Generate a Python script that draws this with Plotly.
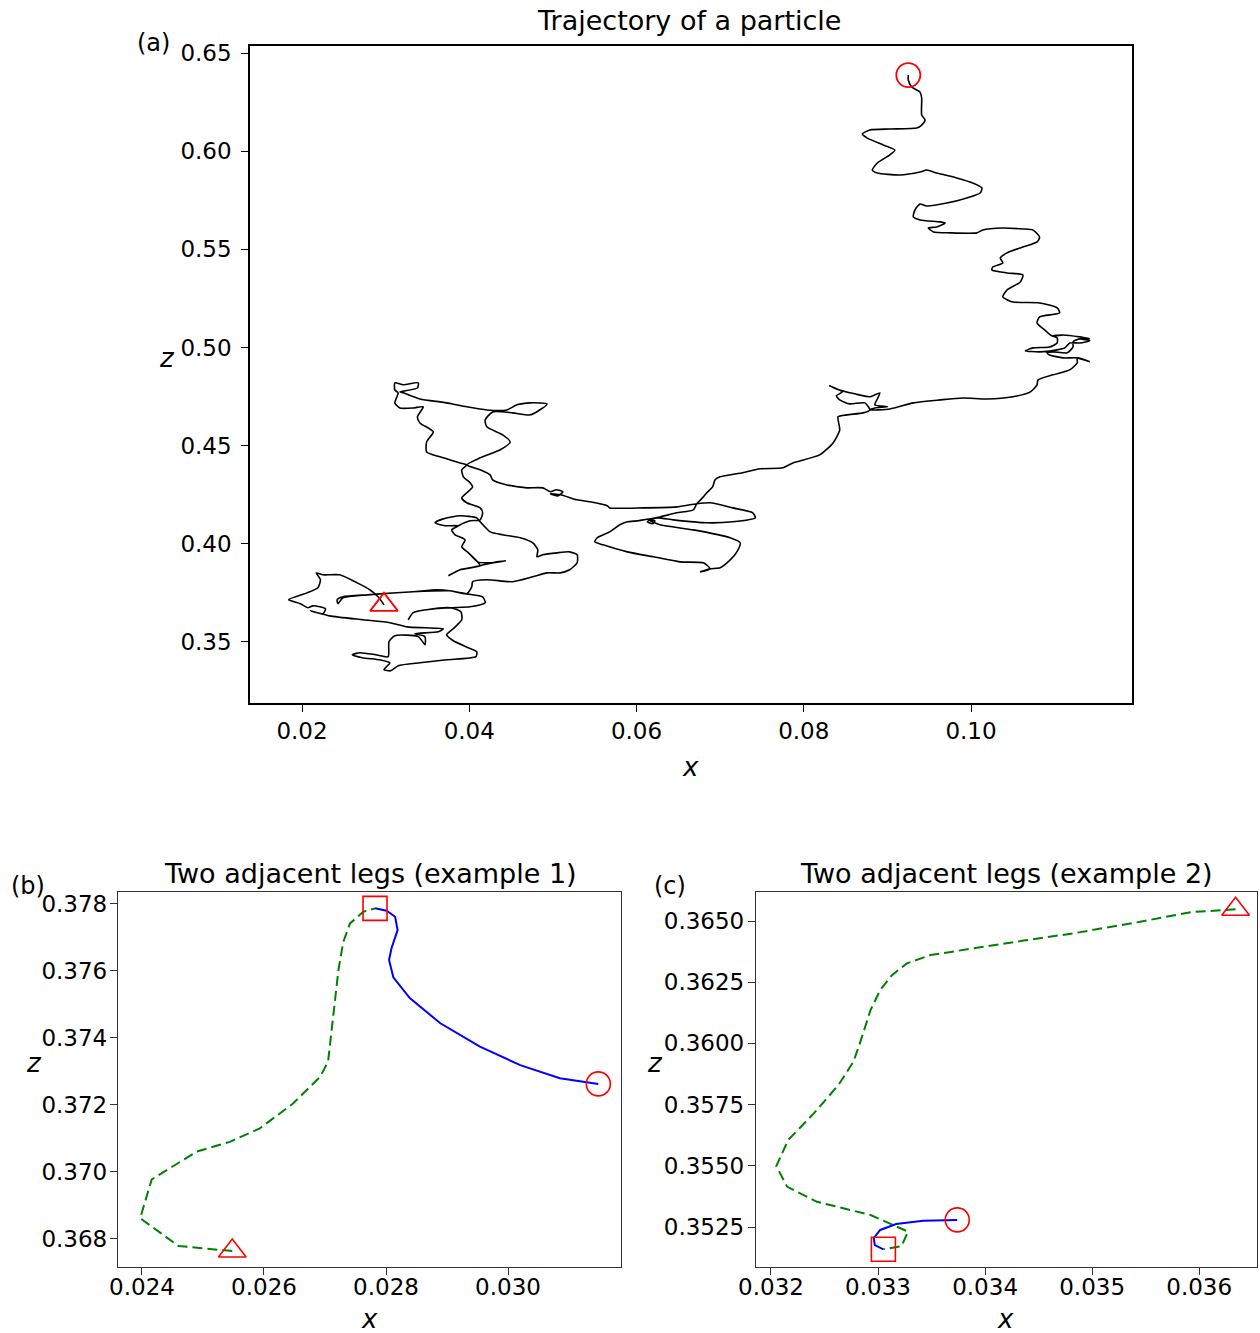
import plotly.graph_objects as go

# ---------------- data: panel (a) trajectory ----------------
traj_x = [
    0.0298, 0.0291, 0.0281, 0.0266, 0.0245, 0.0225, 0.0217, 0.0222, 0.0219, 0.0206,
    0.0184, 0.0198, 0.0207, 0.0213, 0.0228, 0.0225, 0.0210, 0.0233, 0.0273, 0.0305,
    0.0326, 0.0347, 0.0369, 0.0363, 0.0335, 0.0347, 0.0347, 0.0339, 0.0311, 0.0304,
    0.0303, 0.0288, 0.0269, 0.0260, 0.0272, 0.0293, 0.0305, 0.0298, 0.0306, 0.0315,
    0.0341, 0.0373, 0.0408, 0.0409, 0.0396, 0.0381, 0.0373, 0.0382, 0.0391, 0.0390,
    0.0377, 0.0349, 0.0333, 0.0327, 0.0333, 0.0349, 0.0377, 0.0401, 0.0419, 0.0416,
    0.0397, 0.0377, 0.0361, 0.0333, 0.0293, 0.0278, 0.0249, 0.0242, 0.0243, 0.0249,
    0.0278, 0.0333, 0.0377, 0.0397, 0.0403, 0.0404, 0.0421, 0.0452, 0.0476, 0.0493,
    0.0509, 0.0520, 0.0529, 0.0529, 0.0520, 0.0505, 0.0488, 0.0481, 0.0482, 0.0476,
    0.0461, 0.0440, 0.0425, 0.0413, 0.0409, 0.0389, 0.0369, 0.0359, 0.0371, 0.0387,
    0.0379, 0.0383, 0.0395, 0.0391, 0.0399, 0.0410, 0.0425, 0.0443, 0.0433, 0.0413,
    0.0389, 0.0375, 0.0389, 0.0413, 0.0410, 0.0399, 0.0391, 0.0395, 0.0383, 0.0379,
    0.0387, 0.0401, 0.0413, 0.0416, 0.0413, 0.0397, 0.0391, 0.0397, 0.0404, 0.0401,
    0.0393, 0.0391, 0.0397, 0.0389, 0.0365, 0.0349, 0.0349, 0.0357, 0.0341, 0.0338,
    0.0345, 0.0333, 0.0317, 0.0311, 0.0315, 0.0311, 0.0311, 0.0321, 0.0339, 0.0338,
    0.0317, 0.0321, 0.0341, 0.0365, 0.0373, 0.0397, 0.0421, 0.0445, 0.0457, 0.0473,
    0.0493, 0.0488, 0.0473, 0.0452, 0.0428, 0.0419, 0.0421, 0.0440, 0.0449, 0.0437,
    0.0413, 0.0397, 0.0413, 0.0425, 0.0428, 0.0445, 0.0469, 0.0488, 0.0497, 0.0504,
    0.0512, 0.0506, 0.0497, 0.0509, 0.0529, 0.0544, 0.0565, 0.0568, 0.0608, 0.0648,
    0.0672, 0.0688, 0.0715, 0.0739, 0.0742, 0.0715, 0.0684, 0.0644, 0.0625, 0.0616,
    0.0613, 0.0619, 0.0622, 0.0614, 0.0628, 0.0668, 0.0712, 0.0724, 0.0720, 0.0712,
    0.0700, 0.0688, 0.0676, 0.0688, 0.0680, 0.0652, 0.0620, 0.0589, 0.0560, 0.0550,
    0.0553, 0.0568, 0.0580, 0.0589, 0.0601, 0.0608, 0.0628, 0.0648, 0.0668, 0.0672,
    0.0680, 0.0684, 0.0691, 0.0694, 0.0700, 0.0727, 0.0748, 0.0775, 0.0787, 0.0819,
    0.0835, 0.0843, 0.0841, 0.0852, 0.0871, 0.0879, 0.0873, 0.0855, 0.0843, 0.0839,
    0.0846, 0.0831, 0.0839, 0.0861, 0.0879, 0.0891, 0.0888, 0.0885, 0.0900, 0.0885,
    0.0879, 0.0903, 0.0931, 0.0963, 0.0990, 0.1019, 0.1050, 0.1071, 0.1079, 0.1080,
    0.1098, 0.1118, 0.1127, 0.1127, 0.1142, 0.1127, 0.1110, 0.1094, 0.1091, 0.1098,
    0.1115, 0.1122, 0.1122, 0.1130, 0.1142, 0.1130, 0.1118, 0.1112, 0.1103, 0.1082,
    0.1065, 0.1074, 0.1094, 0.1103, 0.1103, 0.1097, 0.1110, 0.1130, 0.1142, 0.1130,
    0.1110, 0.1097, 0.1088, 0.1079, 0.1082, 0.1106, 0.1103, 0.1082, 0.1050, 0.1038,
    0.1043, 0.1059, 0.1062, 0.1043, 0.1025, 0.1026, 0.1038, 0.1035, 0.1043, 0.1062,
    0.1079, 0.1082, 0.1074, 0.1062, 0.1038, 0.1014, 0.1007, 0.0975, 0.0955, 0.0949,
    0.0959, 0.0969, 0.0963, 0.0939, 0.0931, 0.0933, 0.0939, 0.0947, 0.0971, 0.0995,
    0.1011, 0.1013, 0.1002, 0.0983, 0.0959, 0.0947, 0.0939, 0.0915, 0.0888, 0.0882,
    0.0888, 0.0903, 0.0909, 0.0895, 0.0876, 0.0870, 0.0879, 0.0903, 0.0935, 0.0941,
    0.0945, 0.0941, 0.0941, 0.0939, 0.0929, 0.0925, 0.0925,
]
traj_z = [
    0.3689, 0.3730, 0.3766, 0.3801, 0.3842, 0.3842, 0.3852, 0.3817, 0.3776, 0.3750,
    0.3715, 0.3695, 0.3674, 0.3684, 0.3669, 0.3644, 0.3659, 0.3633, 0.3613, 0.3598,
    0.3577, 0.3572, 0.3567, 0.3552, 0.3542, 0.3527, 0.3486, 0.3527, 0.3532, 0.3501,
    0.3425, 0.3435, 0.3445, 0.3435, 0.3420, 0.3409, 0.3394, 0.3359, 0.3353, 0.3379,
    0.3394, 0.3409, 0.3425, 0.3450, 0.3476, 0.3506, 0.3537, 0.3572, 0.3613, 0.3654,
    0.3674, 0.3664, 0.3649, 0.3613, 0.3649, 0.3664, 0.3674, 0.3679, 0.3700, 0.3730,
    0.3745, 0.3761, 0.3766, 0.3756, 0.3745, 0.3740, 0.3730, 0.3715, 0.3695, 0.3725,
    0.3740, 0.3756, 0.3761, 0.3745, 0.3781, 0.3807, 0.3817, 0.3807, 0.3832, 0.3852,
    0.3852, 0.3868, 0.3903, 0.3944, 0.3959, 0.3954, 0.3944, 0.3934, 0.3969, 0.4005,
    0.4031, 0.4046, 0.4061, 0.4112, 0.4132, 0.4143, 0.4127, 0.4107, 0.4092, 0.4092,
    0.4071, 0.4046, 0.4020, 0.3985, 0.3954, 0.3908, 0.3903, 0.3913, 0.3908, 0.3888,
    0.3868, 0.3837, 0.3868, 0.3888, 0.3908, 0.3954, 0.3985, 0.4020, 0.4046, 0.4071,
    0.4092, 0.4117, 0.4122, 0.4158, 0.4183, 0.4209, 0.4234, 0.4260, 0.4290, 0.4311,
    0.4341, 0.4377, 0.4402, 0.4412, 0.4443, 0.4468, 0.4519, 0.4570, 0.4616, 0.4647,
    0.4698, 0.4692, 0.4692, 0.4718, 0.4769, 0.4784, 0.4820, 0.4810, 0.4820, 0.4794,
    0.4774, 0.4769, 0.4738, 0.4723, 0.4718, 0.4698, 0.4682, 0.4682, 0.4708, 0.4718,
    0.4713, 0.4692, 0.4657, 0.4667, 0.4672, 0.4631, 0.4596, 0.4555, 0.4519, 0.4479,
    0.4438, 0.4402, 0.4377, 0.4351, 0.4326, 0.4300, 0.4285, 0.4285, 0.4265, 0.4275,
    0.4265, 0.4244, 0.4255, 0.4250, 0.4224, 0.4214, 0.4194, 0.4183, 0.4183, 0.4188,
    0.4204, 0.4209, 0.4183, 0.4158, 0.4132, 0.4112, 0.4107, 0.4122, 0.4132, 0.4122,
    0.4112, 0.4102, 0.4117, 0.4122, 0.4097, 0.4071, 0.4031, 0.4005, 0.3959, 0.3918,
    0.3878, 0.3873, 0.3857, 0.3873, 0.3903, 0.3908, 0.3934, 0.3959, 0.3995, 0.4010,
    0.4031, 0.4061, 0.4097, 0.4112, 0.4117, 0.4122, 0.4137, 0.4158, 0.4173, 0.4204,
    0.4239, 0.4260, 0.4290, 0.4326, 0.4341, 0.4362, 0.4382, 0.4387, 0.4412, 0.4453,
    0.4514, 0.4580, 0.4647, 0.4657, 0.4667, 0.4682, 0.4718, 0.4713, 0.4733, 0.4754,
    0.4774, 0.4805, 0.4789, 0.4764, 0.4749, 0.4769, 0.4738, 0.4708, 0.4698, 0.4692,
    0.4682, 0.4687, 0.4718, 0.4733, 0.4743, 0.4738, 0.4749, 0.4774, 0.4810, 0.4835,
    0.4861, 0.4886, 0.4922, 0.4947, 0.4927, 0.4947, 0.4947, 0.4962, 0.4973, 0.4978,
    0.4973, 0.5003, 0.5029, 0.5044, 0.5034, 0.5023, 0.5023, 0.4998, 0.4988, 0.4978,
    0.4983, 0.4998, 0.5003, 0.5023, 0.5049, 0.5059, 0.5064, 0.5054, 0.5044, 0.5054,
    0.5064, 0.5059, 0.5090, 0.5125, 0.5156, 0.5176, 0.5202, 0.5227, 0.5232, 0.5258,
    0.5293, 0.5334, 0.5370, 0.5380, 0.5395, 0.5410, 0.5431, 0.5456, 0.5482, 0.5512,
    0.5538, 0.5563, 0.5599, 0.5604, 0.5609, 0.5599, 0.5584, 0.5584, 0.5589, 0.5609,
    0.5614, 0.5634, 0.5640, 0.5650, 0.5665, 0.5701, 0.5731, 0.5721, 0.5736, 0.5762,
    0.5787, 0.5813, 0.5838, 0.5864, 0.5889, 0.5904, 0.5894, 0.5879, 0.5889, 0.5904,
    0.5940, 0.5981, 0.6006, 0.6032, 0.6067, 0.6088, 0.6108, 0.6113, 0.6118, 0.6133,
    0.6159, 0.6184, 0.6271, 0.6301, 0.6327, 0.6363, 0.6388,
]

# ---------------- data: panel (b) ----------------
b_leg1_x = [0.02548, 0.02460, 0.02397, 0.02416, 0.02490, 0.02544, 0.02593, 0.02648,
            0.02692, 0.02705, 0.02714, 0.02722, 0.02730, 0.02741, 0.02763, 0.02782]
b_leg1_z = [0.36764, 0.36779, 0.36862, 0.36978, 0.37061, 0.37090, 0.37130, 0.37205,
            0.37284, 0.37329, 0.37474, 0.37603, 0.37687, 0.37742, 0.37777, 0.37787]
b_leg2_x = [0.02782, 0.02801, 0.02815, 0.02819, 0.02809, 0.02805, 0.02812, 0.02839,
            0.02889, 0.02954, 0.03020, 0.03085, 0.03148]
b_leg2_z = [0.37787, 0.37780, 0.37762, 0.37722, 0.37668, 0.37633, 0.37581, 0.37519,
            0.37444, 0.37374, 0.37319, 0.37280, 0.37263]

# ---------------- data: panel (c) ----------------
c_leg1_x = [0.03634, 0.03592, 0.03545, 0.03483, 0.03436, 0.03389, 0.03349, 0.03327,
            0.03313, 0.03302, 0.03293, 0.03283, 0.03277, 0.03263, 0.03240, 0.03216,
            0.03205, 0.03215, 0.03243, 0.03293, 0.03314, 0.03328, 0.03322, 0.03305]
c_leg1_z = [0.36548, 0.36536, 0.36497, 0.36450, 0.36420, 0.36388, 0.36361, 0.36327,
            0.36279, 0.36218, 0.36136, 0.36000, 0.35925, 0.35830, 0.35714, 0.35605,
            0.35499, 0.35415, 0.35353, 0.35299, 0.35258, 0.35231, 0.35172, 0.35159]
c_leg2_x = [0.03305, 0.03297, 0.03296, 0.03302, 0.03317, 0.03342, 0.03374]
c_leg2_z = [0.35159, 0.35176, 0.35204, 0.35238, 0.35262, 0.35276, 0.35279]

# ---------------- tick labels ----------------
a_xticks = [0.02, 0.04, 0.06, 0.08, 0.10]
a_xticktext = ["0.02", "0.04", "0.06", "0.08", "0.10"]
a_zticks = [0.35, 0.40, 0.45, 0.50, 0.55, 0.60, 0.65]
a_zticktext = ["0.35", "0.40", "0.45", "0.50", "0.55", "0.60", "0.65"]
b_xticks = [0.024, 0.026, 0.028, 0.030]
b_xticktext = ["0.024", "0.026", "0.028", "0.030"]
b_zticks = [0.368, 0.370, 0.372, 0.374, 0.376, 0.378]
b_zticktext = ["0.368", "0.370", "0.372", "0.374", "0.376", "0.378"]
c_xticks = [0.032, 0.033, 0.034, 0.035, 0.036]
c_xticktext = ["0.032", "0.033", "0.034", "0.035", "0.036"]
c_zticks = [0.3525, 0.3550, 0.3575, 0.3600, 0.3625, 0.3650]
c_zticktext = ["0.3525", "0.3550", "0.3575", "0.3600", "0.3625", "0.3650"]

FONT = "DejaVu Sans"
RED = "#ff0000"

fig = go.Figure()

# panel (a)
fig.add_trace(go.Scatter(x=traj_x, y=traj_z, mode="lines",
                         line=dict(color="black", width=1.6, shape="spline", smoothing=0.6),
                         xaxis="x", yaxis="y", showlegend=False))
fig.add_trace(go.Scatter(x=[traj_x[0]], y=[traj_z[0]], mode="markers",
                         marker=dict(symbol="triangle-up-open", size=24, color=RED,
                                     line=dict(color=RED, width=1.8)),
                         xaxis="x", yaxis="y", showlegend=False))
fig.add_trace(go.Scatter(x=[traj_x[-1]], y=[traj_z[-1]], mode="markers",
                         marker=dict(symbol="circle-open", size=24, color=RED,
                                     line=dict(color=RED, width=1.8)),
                         xaxis="x", yaxis="y", showlegend=False))

# panel (b)
fig.add_trace(go.Scatter(x=b_leg1_x, y=b_leg1_z, mode="lines",
                         line=dict(color="#008000", width=2, dash="10px,5px"),
                         xaxis="x2", yaxis="y2", showlegend=False))
fig.add_trace(go.Scatter(x=b_leg2_x, y=b_leg2_z, mode="lines",
                         line=dict(color="#0000ff", width=2),
                         xaxis="x2", yaxis="y2", showlegend=False))
fig.add_trace(go.Scatter(x=[b_leg1_x[0]], y=[b_leg1_z[0]], mode="markers",
                         marker=dict(symbol="triangle-up-open", size=24, color=RED,
                                     line=dict(color=RED, width=1.6)),
                         xaxis="x2", yaxis="y2", showlegend=False))
fig.add_trace(go.Scatter(x=[b_leg2_x[0]], y=[b_leg2_z[0]], mode="markers",
                         marker=dict(symbol="square-open", size=24, color=RED,
                                     line=dict(color=RED, width=1.6)),
                         xaxis="x2", yaxis="y2", showlegend=False))
fig.add_trace(go.Scatter(x=[b_leg2_x[-1]], y=[b_leg2_z[-1]], mode="markers",
                         marker=dict(symbol="circle-open", size=24, color=RED,
                                     line=dict(color=RED, width=1.6)),
                         xaxis="x2", yaxis="y2", showlegend=False))

# panel (c)
fig.add_trace(go.Scatter(x=c_leg1_x, y=c_leg1_z, mode="lines",
                         line=dict(color="#008000", width=2, dash="10px,5px"),
                         xaxis="x3", yaxis="y3", showlegend=False))
fig.add_trace(go.Scatter(x=c_leg2_x, y=c_leg2_z, mode="lines",
                         line=dict(color="#0000ff", width=2),
                         xaxis="x3", yaxis="y3", showlegend=False))
fig.add_trace(go.Scatter(x=[c_leg1_x[0]], y=[c_leg1_z[0]], mode="markers",
                         marker=dict(symbol="triangle-up-open", size=24, color=RED,
                                     line=dict(color=RED, width=1.6)),
                         xaxis="x3", yaxis="y3", showlegend=False))
fig.add_trace(go.Scatter(x=[c_leg2_x[0]], y=[c_leg2_z[0]], mode="markers",
                         marker=dict(symbol="square-open", size=24, color=RED,
                                     line=dict(color=RED, width=1.6)),
                         xaxis="x3", yaxis="y3", showlegend=False))
fig.add_trace(go.Scatter(x=[c_leg2_x[-1]], y=[c_leg2_z[-1]], mode="markers",
                         marker=dict(symbol="circle-open", size=24, color=RED,
                                     line=dict(color=RED, width=1.6)),
                         xaxis="x3", yaxis="y3", showlegend=False))

W, H = 1260, 1333


def axis(domain, rng, tickvals, ticktext, anchor, standoff=0, lc="black", lw=1.5):
    return dict(domain=domain, range=rng, anchor=anchor, autorange=False,
                automargin=False,
                tickmode="array", tickvals=tickvals, ticktext=ticktext,
                showline=True, mirror=True, linecolor=lc, linewidth=lw,
                ticks="outside", ticklen=7, tickwidth=1.3, tickcolor=lc,
                ticklabelstandoff=standoff,
                showgrid=False, zeroline=False,
                tickfont=dict(family=FONT, size=23, color="black"))


fig.update_layout(
    template="none",
    width=W, height=H, autosize=False,
    margin=dict(l=0, r=0, t=0, b=0, pad=0),
    paper_bgcolor="white", plot_bgcolor="white",
    showlegend=False,
    xaxis=axis([250 / W, 1132 / W], [0.01378, 0.11925], a_xticks, a_xticktext, "y"),
    yaxis=axis([1 - 703 / H, 1 - 46 / H], [0.3189, 0.6536], a_zticks, a_zticktext, "x",
               standoff=5),
    xaxis2=axis([118 / W, 621 / W], [0.023607, 0.031852], b_xticks, b_xticktext, "y2",
                standoff=-8, lc="#333333", lw=1.3),
    yaxis2=axis([1 - 1267 / H, 1 - 892 / H], [0.367164, 0.378358], b_zticks, b_zticktext,
                "x2", standoff=-2, lc="#333333", lw=1.3),
    xaxis3=axis([756 / W, 1257 / W], [0.03186, 0.03654], c_xticks, c_xticktext, "y3",
                standoff=-8, lc="#333333", lw=1.3),
    yaxis3=axis([1 - 1267 / H, 1 - 892 / H], [0.350866, 0.366185], c_zticks, c_zticktext,
                "x3", standoff=-1, lc="#333333", lw=1.3),
)


def note(text, px, py, size):
    return dict(text=text, x=px / W, y=1 - py / H, xref="paper", yref="paper",
                xanchor="center", yanchor="middle", showarrow=False,
                font=dict(family=FONT, size=size, color="black"))


fig.update_layout(annotations=[
    note("Trajectory of a particle", 689, 21, 27),
    note("Two adjacent legs (example 1)", 370, 873, 27),
    note("Two adjacent legs (example 2)", 1006, 873, 27),
    note("(a)", 153, 43, 24),
    note("(b)", 28, 886, 24),
    note("(c)", 670, 886, 24),
    note("<i>x</i>", 690, 767, 26),
    note("<i>z</i>", 167, 358, 26),
    note("<i>x</i>", 369, 1319, 26),
    note("<i>z</i>", 34, 1063, 26),
    note("<i>x</i>", 1005, 1319, 26),
    note("<i>z</i>", 655, 1063, 26),
])

fig.write_html("out.html")
